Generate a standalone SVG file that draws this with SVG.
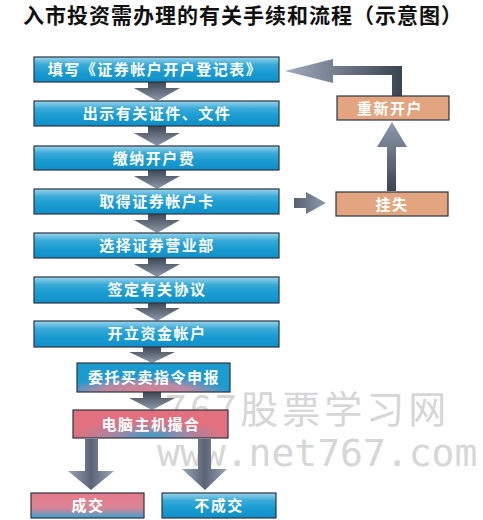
<svg xmlns="http://www.w3.org/2000/svg" width="483" height="520" viewBox="0 0 483 520">
<defs>
<linearGradient id="blue" x1="0" y1="0" x2="0" y2="1">
<stop offset="0" stop-color="#9ad6ec"/>
<stop offset="0.3" stop-color="#3aaad8"/>
<stop offset="0.6" stop-color="#1a9cd2"/>
<stop offset="1" stop-color="#0f8fc8"/>
</linearGradient>
<radialGradient id="mixA" cx="0.45" cy="1" r="0.55">
<stop offset="0" stop-color="#e27d8c"/>
<stop offset="0.55" stop-color="#b48aa6"/>
<stop offset="1" stop-color="#1c9bd0"/>
</radialGradient>
<radialGradient id="mixB" cx="0.5" cy="0.9" r="0.5">
<stop offset="0" stop-color="#3e9ccc"/>
<stop offset="0.5" stop-color="#a9859f"/>
<stop offset="1" stop-color="#e2707f"/>
</radialGradient>
<linearGradient id="mixC" x1="0" y1="0" x2="0" y2="1">
<stop offset="0" stop-color="#e77a88"/>
<stop offset="0.6" stop-color="#d98497"/>
<stop offset="1" stop-color="#3aa2cf"/>
</linearGradient>
<linearGradient id="grayV" x1="0" y1="0" x2="1" y2="0">
<stop offset="0" stop-color="#9aa5b8"/>
<stop offset="0.5" stop-color="#5a6476"/>
<stop offset="1" stop-color="#9aa5b8"/>
</linearGradient>
<linearGradient id="grayS" x1="0" y1="0" x2="0" y2="1">
<stop offset="0" stop-color="#3f4854"/>
<stop offset="1" stop-color="#8e99ab"/>
</linearGradient>
<linearGradient id="grayUp" x1="0" y1="1" x2="0" y2="0">
<stop offset="0" stop-color="#3c4550"/>
<stop offset="1" stop-color="#8e9aae"/>
</linearGradient>
<linearGradient id="grayL" x1="1" y1="0" x2="0" y2="0">
<stop offset="0" stop-color="#3a4450"/>
<stop offset="1" stop-color="#a0abbd"/>
</linearGradient>
<linearGradient id="grayR" x1="0" y1="0" x2="1" y2="0">
<stop offset="0" stop-color="#56606e"/>
<stop offset="1" stop-color="#909bae"/>
</linearGradient>
</defs>
<style>
.box{stroke:#2c3440;stroke-width:1.2}
.b{fill:url(#blue)}
.tan{fill:#e2a57f}
.t{font-family:"Noto Sans CJK SC","Noto Sans",sans-serif;font-weight:bold;font-size:15px;fill:#ffffff;text-anchor:middle;letter-spacing:1.5px}
.wm{font-family:"Noto Sans CJK SC",sans-serif;fill:#d6d6d6}
</style>
<rect width="483" height="520" fill="#ffffff"/>
<text x="23" y="23" font-family="Noto Sans CJK SC, sans-serif" font-weight="bold" font-size="21" letter-spacing="1" fill="#111111">入市投资需办理的有关手续和流程（示意图）</text>
<g id="watermark">
<text class="wm" x="165" y="423" font-size="38" letter-spacing="4">767股票学习网</text>
<text x="157" y="466" font-family="DejaVu Sans Mono, monospace" font-size="38" fill="#d6d6d6">www.net767.com</text>
</g>
<g id="connectors">
<path d="M148,82 L166,82 L166,88 L180,88 L157,101 L134,88 L148,88 Z" fill="url(#grayS)"/>
<path d="M148,126 L166,126 L166,133 L180,133 L157,146 L134,133 L148,133 Z" fill="url(#grayS)"/>
<path d="M148,170 L166,170 L166,176 L180,176 L157,189 L134,176 L148,176 Z" fill="url(#grayS)"/>
<path d="M148,214 L166,214 L166,220 L180,220 L157,233 L134,220 L148,220 Z" fill="url(#grayS)"/>
<path d="M148,258 L166,258 L166,264 L180,264 L157,277 L134,264 L148,264 Z" fill="url(#grayS)"/>
<path d="M148,303 L166,303 L166,308 L180,308 L157,321 L134,308 L148,308 Z" fill="url(#grayS)"/>
<path d="M143,347 L161,347 L161,352 L175,352 L152,363 L129,352 L143,352 Z" fill="url(#grayS)"/>
<path d="M143,392 L161,392 L161,398 L175,398 L152,410 L129,398 L143,398 Z" fill="url(#grayS)"/>
<path d="M85,439 L98,439 L98,471 L114,471 L91,490 L68,471 L85,471 Z" fill="url(#grayV)"/>
<path d="M198,439 L211,439 L211,469 L227,469 L205,490 L182,469 L198,469 Z" fill="url(#grayV)"/>
<path d="M294,198 L306,198 L306,192 L326,203 L306,214 L306,208 L294,208 Z" fill="url(#grayR)"/>
<path d="M387,191 L396,191 L396,147 L407,147 L392,122 L377,147 L387,147 Z" fill="url(#grayUp)"/>
<path d="M392,96 L402,96 L402,66 L333,66 L333,59 L285,71 L333,83 L333,75 L392,75 Z" fill="url(#grayL)"/>
</g>
<g id="n1"><rect class="box b" x="34" y="57" width="245" height="25"/><text class="t" x="155" y="75">填写《证券帐户开户登记表》</text></g>
<g id="n2"><rect class="box b" x="34" y="101" width="245" height="25"/><text class="t" x="157" y="119">出示有关证件、文件</text></g>
<g id="n3"><rect class="box b" x="34" y="146" width="245" height="24"/><text class="t" x="154" y="164">缴纳开户费</text></g>
<g id="n4"><rect class="box b" x="34" y="189" width="245" height="25"/><text class="t" x="157" y="207">取得证券帐户卡</text></g>
<g id="n5"><rect class="box b" x="34" y="233" width="245" height="25"/><text class="t" x="157" y="251">选择证券营业部</text></g>
<g id="n6"><rect class="box b" x="34" y="277" width="245" height="26"/><text class="t" x="157" y="295">签定有关协议</text></g>
<g id="n7"><rect class="box b" x="34" y="321" width="245" height="26"/><text class="t" x="157" y="339">开立资金帐户</text></g>
<g id="n8"><rect class="box" fill="url(#mixA)" x="77" y="363" width="153" height="29"/><text class="t" x="154" y="383">委托买卖指令申报</text></g>
<g id="n9"><rect class="box" fill="url(#mixB)" x="73" y="410" width="155" height="28"/><text class="t" x="151" y="430">电脑主机撮合</text></g>
<g id="n10"><rect class="box" fill="url(#mixC)" x="31" y="493" width="113" height="25"/><text class="t" x="88" y="511">成交</text></g>
<g id="n11"><rect class="box b" x="162" y="493" width="114" height="25"/><text class="t" x="219" y="511">不成交</text></g>
<g id="n12"><rect class="box tan" x="337" y="96" width="112" height="24"/><text class="t" x="390" y="114">重新开户</text></g>
<g id="n13"><rect class="box tan" x="336" y="192" width="112" height="24"/><text class="t" x="392" y="210">挂失</text></g>
</svg>
